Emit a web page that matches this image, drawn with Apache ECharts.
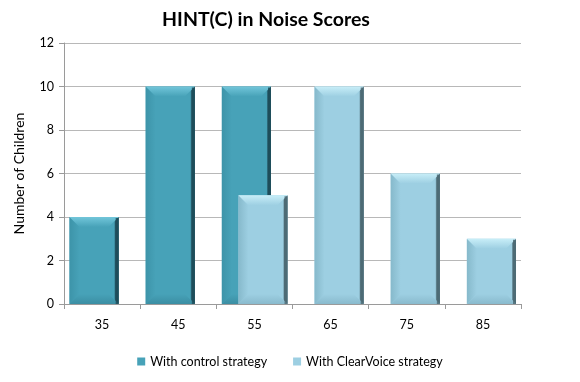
<!DOCTYPE html>
<html><head><meta charset="utf-8">
<script src="https://cdn.jsdelivr.net/npm/echarts@6/dist/echarts.min.js"></script>
<style>html,body{margin:0;padding:0;background:#fff}#c{width:580px;height:382px}</style>
</head><body><div id="c"></div>
<script>
const categories = ['35','45','55','65','75','85'];
const controlValues = [4, 10, 10, 0, 0, 0];
const clearVoiceValues = [0, 0, 5, 10, 6, 3];
const yTicks = [0, 2, 4, 6, 8, 10, 12];
const seriesNames = ['With control strategy', 'With ClearVoice strategy'];

const FONT = 'Lato, "Open Sans", sans-serif';

const palControl = {main: '#47a2b8', top: '#72c6da', bottom: '#3b8ea3', left: '#3d94a9', right: '#1e4d5a'};
const palClear = {main: '#9dcfe2', top: '#c8eef8', bottom: '#89bacd', left: '#86b9cb', right: '#4d6b75'};

function makeRender(pal, offFrac, widthFrac) {
  return function (params, api) {
    const v = api.value(1);
    if (!v) return null;
    const idx = api.value(0);
    const top = api.coord([idx, v]);
    const base = api.coord([idx, 0]);
    const band = api.size([1, 0])[0];
    const w = band * widthFrac;
    const cx = top[0] + band * offFrac;
    const x0 = cx - w / 2, x1 = cx + w / 2, y0 = top[1], y1 = base[1];
    const b = Math.min(10, (y1 - y0) / 2);
    const s = 3;
    return {
      type: 'group',
      children: [
        {type: 'rect', shape: {x: x0, y: y0, width: x1 - x0, height: y1 - y0}, style: {fill: pal.main}},
        {type: 'polygon', shape: {points: [[x0, y0], [x0 + b, y0 + b], [x0 + b, y1 - b], [x0, y1]]},
          style: {fill: new echarts.graphic.LinearGradient(0, 0, 1, 0, [{offset: 0, color: pal.left}, {offset: 1, color: pal.main}])}},
        {type: 'polygon', shape: {points: [[x1, y0], [x1 - b, y0 + b], [x1 - b, y1 - b], [x1, y1]]},
          style: {fill: new echarts.graphic.LinearGradient(0, 0, 1, 0, [{offset: 0, color: pal.main}, {offset: 0.55, color: pal.main}, {offset: 0.7, color: pal.right}, {offset: 1, color: pal.right}])}},
        {type: 'polygon', shape: {points: [[x0, y0], [x1, y0], [x1 - b, y0 + b], [x0 + b, y0 + b]]},
          style: {fill: new echarts.graphic.LinearGradient(0, 0, 0, 1, [{offset: 0, color: pal.top}, {offset: 1, color: pal.main}])}},
        {type: 'polygon', shape: {points: [[x0, y1], [x1, y1], [x1 - b, y1 - b], [x0 + b, y1 - b]]},
          style: {fill: new echarts.graphic.LinearGradient(0, 0, 0, 1, [{offset: 0, color: pal.main}, {offset: 1, color: pal.bottom}])}},
        {type: 'rect', shape: {x: x1 - s, y: y0 + 1, width: s, height: y1 - y0 - 1}, style: {fill: pal.right, opacity: 0.85}}
      ]
    };
  };
}

const chart = echarts.init(document.getElementById('c'), null, {renderer: 'canvas'});
chart.setOption({
  animation: false,
  backgroundColor: '#fff',
  title: {
    text: 'HINT(C) in Noise Scores',
    left: 261, top: 5, textAlign: 'center',
    textStyle: {fontFamily: FONT, fontWeight: 'bold', fontSize: 19.5, color: '#000'}
  },
  legend: {
    bottom: 9, left: 'center',
    itemWidth: 8, itemHeight: 8, itemGap: 26,
    icon: 'rect',
    textStyle: {fontFamily: FONT, fontSize: 12.5, color: '#000'},
    data: seriesNames
  },
  grid: {left: 64, right: 59, top: 43, bottom: 78, containLabel: false},
  xAxis: {
    type: 'category', data: categories,
    axisLine: {lineStyle: {color: '#9a9a9a'}},
    axisTick: {show: true, length: 5, lineStyle: {color: '#9a9a9a'}},
    axisLabel: {fontFamily: FONT, fontSize: 12.5, color: '#000', margin: 14}
  },
  yAxis: {
    type: 'value', min: yTicks[0], max: yTicks[yTicks.length - 1], interval: 2,
    name: 'Number of Children', nameLocation: 'middle', nameGap: 38,
    nameTextStyle: {fontFamily: FONT, fontSize: 14, color: '#000'},
    axisLine: {show: true, lineStyle: {color: '#9a9a9a'}},
    axisTick: {show: true, length: 5, lineStyle: {color: '#9a9a9a'}},
    axisLabel: {fontFamily: FONT, fontSize: 12.5, color: '#000', margin: 10},
    splitLine: {lineStyle: {color: '#b8b8b8'}}
  },
  series: [
    {
      name: seriesNames[0], type: 'custom',
      renderItem: makeRender(palControl, -0.105, 0.645),
      itemStyle: {color: palControl.main},
      encode: {x: 0, y: 1},
      data: categories.map((c, i) => [i, controlValues[i]])
    },
    {
      name: seriesNames[1], type: 'custom',
      renderItem: makeRender(palClear, 0.112, 0.645),
      itemStyle: {color: palClear.main},
      encode: {x: 0, y: 1},
      data: categories.map((c, i) => [i, clearVoiceValues[i]])
    }
  ]
});
</script></body></html>
